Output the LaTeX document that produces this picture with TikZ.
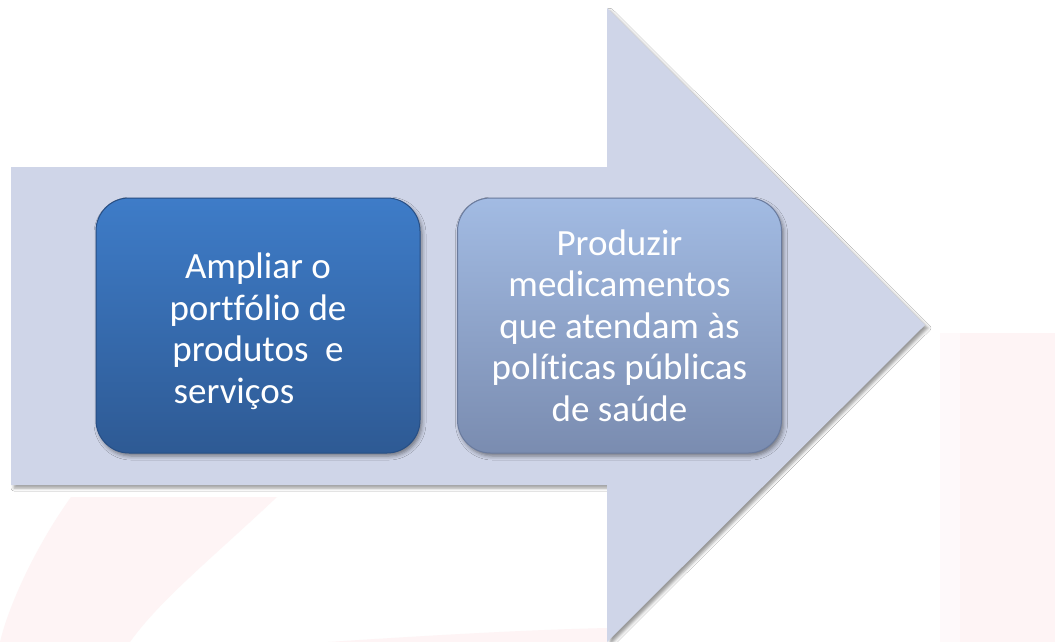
\documentclass[tikz,border=0pt]{standalone}
\usepackage{fontspec}
\setmainfont[Ligatures={NoCommon,NoContextual}]{Carlito}
\usetikzlibrary{shadows.blur}
\definecolor{arrowfill}{HTML}{CFD5E8}
\definecolor{wm}{HTML}{FEF4F5}
\definecolor{darkTop}{HTML}{3E7CC8}
\definecolor{darkBot}{HTML}{2E5A94}
\definecolor{darkLine}{HTML}{284F85}
\definecolor{lightTop}{HTML}{A2BBE3}
\definecolor{lightBot}{HTML}{7A8CB0}
\definecolor{lightLine}{HTML}{6A7B9E}
\tikzset{
  stepbox/.style={rounded corners=33pt, minimum width=324pt, minimum height=255pt,
    inner sep=0pt, line width=1pt,
    blur shadow={shadow xshift=2pt, shadow yshift=-3pt, shadow blur radius=4pt, shadow opacity=45}},
  steptext/.style={align=center, text=white, inner sep=0pt,
    font=\fontsize{37}{41.5}\selectfont},
  darkbox/.style={stepbox, draw=darkLine, top color=darkTop, bottom color=darkBot},
  lightbox/.style={stepbox, draw=lightLine, top color=lightTop, bottom color=lightBot},
  bigarrow/.style={fill=arrowfill,
    blur shadow={shadow xshift=3pt, shadow yshift=-3pt, shadow blur radius=3pt, shadow opacity=40}},
}
\begin{document}
\begin{tikzpicture}[x=1pt, y=-1pt]
\useasboundingbox[fill=white] (0,0) rectangle (1055,642);
% faint watermark
\fill[wm] (71,497) -- (277,497) .. controls (210,560) and (160,600) .. (130,642) -- (0,642) .. controls (10,600) and (40,540) .. (71,497) -- cycle;
\fill[wm] (328,642) .. controls (420,636) and (520,630) .. (607,628) -- (607,642) -- cycle;
\fill[wm!50!white] (940,333) rectangle (960,642);
\fill[wm] (960,333) rectangle (1055,642);
% big arrow
\path[bigarrow] (11,167) -- (607,167) -- (607,8) -- (925,325) -- (607,642) -- (607,485) -- (11,485) -- cycle;
% steps
\node[darkbox] (s1) at (258,325.5) {};
\node[steptext] (t1) at ([yshift=-6pt]s1.center) {Ampliar o\\portfólio de\\produtos\ \ e\\serviços\hspace*{1.3em}};
\node[lightbox] (s2) at (619.5,325.5) {};
\node[steptext] (t2) at (s2.center) {Produzir\\medicamentos\\que atendam às\\políticas públicas\\de saúde};
\end{tikzpicture}
\end{document}
